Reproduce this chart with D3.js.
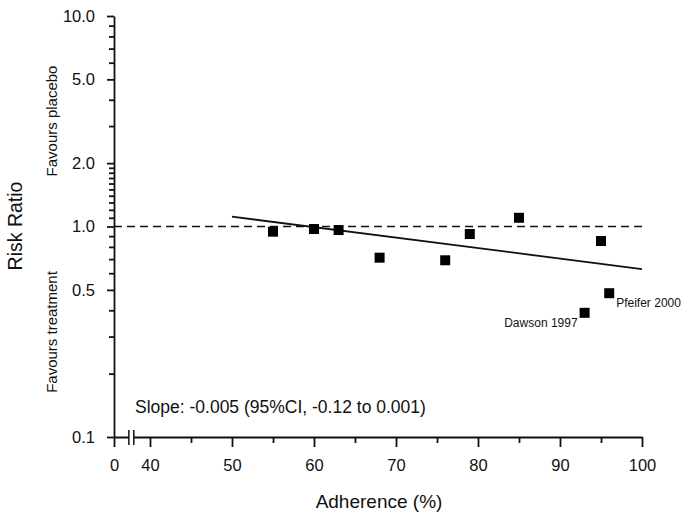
<!DOCTYPE html>
<html>
<head>
<meta charset="utf-8">
<script src="https://cdn.jsdelivr.net/npm/d3@7"></script>
<style>
  body { margin: 0; background: #fff; }
  svg text { font-family: "Liberation Sans", Arial, sans-serif; fill: #111; }
  .axis path, .axis line { stroke: #111; stroke-width: 1.8; }
</style>
</head>
<body>
<svg id="chart"></svg>
<script>
// values
const adherence = [55, 60, 63, 68, 76, 79, 85, 93, 95, 96];
const riskRatio = [0.945, 0.973, 0.962, 0.711, 0.691, 0.921, 1.10, 0.389, 0.853, 0.482];
const studyLabels = ["", "", "", "", "", "", "", "Dawson 1997", "", "Pfeifer 2000"];
const fitAdherence = [50, 100];
const fitRiskRatio = [1.113, 0.628];
const referenceRR = 1.0;

const xMajorTicks = [0, 40, 50, 60, 70, 80, 90, 100];
const xMinorTicks = [45, 55, 65, 75, 85, 95];
const yMajorTicks = [0.1, 0.5, 1, 2, 5, 10];
const yMinorTicks = [0.2, 0.3, 0.4, 0.6, 0.7, 0.8, 0.9,
  1.1, 1.2, 1.3, 1.4, 1.5, 1.6, 1.7, 1.8, 1.9,
  3, 4, 6, 7, 8, 9];

const width = 685, height = 518;
const margin = { top: 16, left: 114, right: 43, bottom: 81 };

const svg = d3.select("#chart").attr("width", width).attr("height", height);

// broken x axis: 0, then jump to 40..100
const X = d3.scaleLinear()
  .domain([0, 40, 100])
  .range([margin.left, margin.left + 36, width - margin.right]);
const Y = d3.scaleLog()
  .domain([0.1, 10])
  .range([height - margin.bottom, margin.top]);

const y0 = Y(0.1);

// x axis
svg.append("g")
  .attr("class", "axis")
  .attr("transform", `translate(0,${y0})`)
  .call(d3.axisBottom(X).tickValues(xMinorTicks).tickSize(6).tickSizeOuter(0).tickFormat(""));
const xax = svg.append("g")
  .attr("class", "axis")
  .attr("transform", `translate(0,${y0})`)
  .call(d3.axisBottom(X).tickValues(xMajorTicks).tickSize(10).tickSizeOuter(0).tickPadding(12));
xax.select(".domain").remove();
xax.selectAll("text").style("font-size", "16.5px");

// axis break marks
const brk = [X(16.5), X(22)];
svg.append("rect")
  .attr("x", brk[0]).attr("y", y0 - 2)
  .attr("width", brk[1] - brk[0]).attr("height", 4)
  .attr("fill", "#fff");
svg.selectAll(".brk")
  .data(brk)
  .join("line")
  .attr("x1", (d) => d).attr("x2", (d) => d)
  .attr("y1", y0 - 7).attr("y2", y0 + 8)
  .attr("stroke", "#111").attr("stroke-width", 1.5);

// y axis
svg.append("g")
  .attr("class", "axis")
  .attr("transform", `translate(${margin.left},0)`)
  .call(d3.axisLeft(Y).tickValues(yMinorTicks).tickSize(5).tickSizeOuter(0).tickFormat(""));
const yax = svg.append("g")
  .attr("class", "axis")
  .attr("transform", `translate(${margin.left},0)`)
  .call(d3.axisLeft(Y).tickValues(yMajorTicks).tickSize(7).tickSizeOuter(0)
    .tickPadding(12).tickFormat(d3.format(".1f")));
yax.select(".domain").remove();
yax.selectAll("text").style("font-size", "16.5px");

// reference line at RR = 1
svg.append("line")
  .attr("x1", X(0)).attr("x2", X(100))
  .attr("y1", Y(referenceRR)).attr("y2", Y(referenceRR))
  .attr("stroke", "#111").attr("stroke-width", 1.5)
  .attr("stroke-dasharray", "8,5");

// meta-regression line
svg.append("path")
  .datum(d3.zip(fitAdherence, fitRiskRatio))
  .attr("d", d3.line().x((d) => X(d[0])).y((d) => Y(d[1])))
  .attr("fill", "none")
  .attr("stroke", "#111")
  .attr("stroke-width", 1.8);

// studies
const pts = d3.zip(adherence, riskRatio, studyLabels);
const sq = 10;
svg.selectAll(".study")
  .data(pts)
  .join("rect")
  .attr("class", "study")
  .attr("x", (d) => X(d[0]) - sq / 2)
  .attr("y", (d) => Y(d[1]) - sq / 2)
  .attr("width", sq).attr("height", sq)
  .attr("fill", "#000");

svg.selectAll(".study-label")
  .data(pts.filter((d) => d[2]))
  .join("text")
  .attr("class", "study-label")
  .attr("x", (d) => X(d[0]) + (d[2].startsWith("Dawson") ? -7 : 7))
  .attr("y", (d) => Y(d[1]) + 14)
  .attr("text-anchor", (d) => (d[2].startsWith("Dawson") ? "end" : "start"))
  .style("font-size", "12px")
  .text((d) => d[2]);

// texts
svg.append("text")
  .attr("x", 135).attr("y", 413)
  .style("font-size", "17.5px")
  .text("Slope: -0.005 (95%CI, -0.12 to 0.001)");

svg.append("text")
  .attr("x", 379).attr("y", 508)
  .attr("text-anchor", "middle")
  .style("font-size", "19px")
  .text("Adherence (%)");

svg.append("text")
  .attr("transform", "translate(22,226) rotate(-90)")
  .attr("text-anchor", "middle")
  .style("font-size", "19.5px")
  .text("Risk Ratio");

svg.append("text")
  .attr("transform", "translate(57,121) rotate(-90)")
  .attr("text-anchor", "middle")
  .style("font-size", "15px")
  .text("Favours placebo");

svg.append("text")
  .attr("transform", "translate(57,332) rotate(-90)")
  .attr("text-anchor", "middle")
  .style("font-size", "15px")
  .text("Favours treatment");
</script>
</body>
</html>
